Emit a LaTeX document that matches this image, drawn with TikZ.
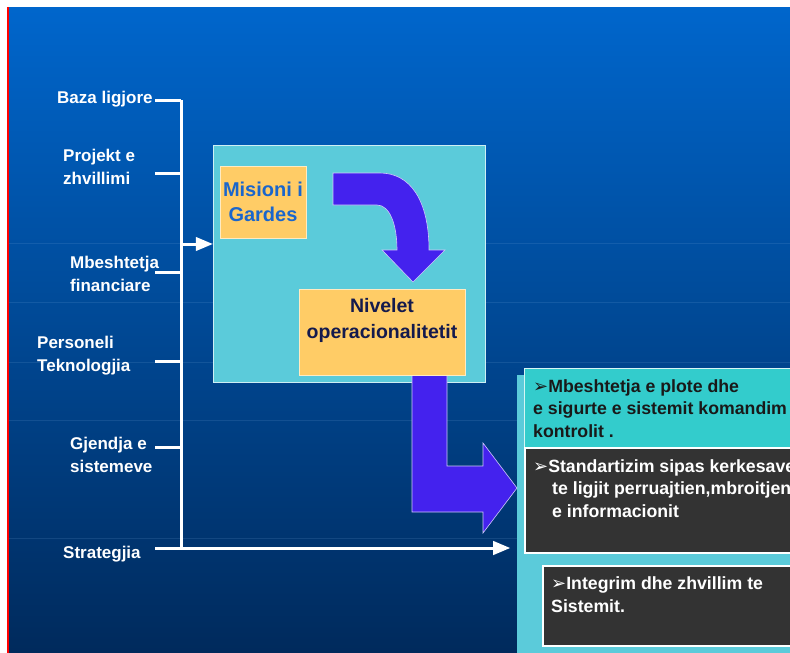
\documentclass[tikz,border=0pt]{standalone}
\usepackage{fontspec}
\setmainfont{Liberation Sans}
\newfontfamily\arrowfont{DejaVu Sans}
\usepackage{tikz}
\usetikzlibrary{arrows,positioning}

\definecolor{bgtop}{HTML}{0066CC}
\definecolor{bgmid}{HTML}{0052A6}
\definecolor{bgbot}{HTML}{002A5C}
\definecolor{cyanbox}{HTML}{5BCBDA}
\definecolor{tealbox}{HTML}{33CCCC}
\definecolor{orangebox}{HTML}{FFCC66}
\definecolor{arrowviolet}{HTML}{4422EE}
\definecolor{darkbox}{HTML}{333333}
\definecolor{misblue}{HTML}{1A66CC}
\definecolor{navytext}{HTML}{141A4D}

\newcommand{\arrbul}{{\arrowfont\fontsize{18}{18}\selectfont ➢}}

\begin{document}
\begin{tikzpicture}[x=1pt,y=-1pt,>=triangle 45,
    wline/.style={draw=white,line width=3pt},
    lbl/.style={anchor=base west,inner sep=0pt,align=left,text=white,
                font=\fontsize{17}{22.5}\selectfont\bfseries},
    paneltxt/.style={lbl,font=\fontsize{17.7}{22.5}\selectfont\bfseries},
    orbox/.style={draw=white!60!orangebox,line width=0.8pt,fill=orangebox,inner sep=0pt},
    bigarrow/.style={fill=arrowviolet,draw=white!75!arrowviolet,line width=0.6pt},
    darkpanel/.style={fill=darkbox,draw=white,line width=2pt}]
\useasboundingbox (0,0) rectangle (790,653);
\clip (0,0) rectangle (790,653);

% background
\fill[white] (0,0) rectangle (790,653);
\shade[top color=bgtop,middle color=bgmid,bottom color=bgbot] (9,7) rectangle (790,653);
\draw[red,line width=2pt] (8,7) -- (8,653);
\foreach \yy in {243,302,362,420,538}
  \draw[bgtop!50!white,opacity=0.15,line width=0.8pt] (9,\yy) -- (790,\yy);

% left labels (base = last line)
\node[lbl] (baza)      at (57,103)  {Baza ligjore};
\node[lbl] (projekt)   at (63,184)  {Projekt e\\zhvillimi};
\node[lbl] (mbeshtet)  at (70,291)  {Mbeshtetja\\financiare};
\node[lbl] (personel)  at (37,371)  {Personeli\\Teknologjia};
\node[lbl] (gjendja)   at (70,472)  {Gjendja e\\sistemeve};
\node[lbl] (strateg)   at (63,558)  {Strategjia};

\coordinate (spinetop) at (181,100);
\coordinate (spinebot) at (181,548);
\coordinate (t1) at (155,100);
\coordinate (t2) at (155,173);
\coordinate (t3) at (155,272);
\coordinate (t4) at (155,361);
\coordinate (t5) at (155,447);
\coordinate (t6) at (155,548);
\coordinate (in) at (181,244);

% main box
\node[fill=cyanbox,draw=white!70!cyanbox,line width=0.8pt,minimum width=272pt,
      minimum height=237pt] (sistemi) at (349,263.5) {};
\node[orbox,minimum width=86pt,minimum height=72pt,align=center,text=misblue,
      font=\fontsize{20}{25}\selectfont\bfseries] (misioni) at (263,202) {Misioni i\\Gardes};

% curved arrow
\path[bigarrow] (333,173) -- (380,173) .. controls (410,173) and (429,200) .. (429,250)
  -- (445,250) -- (413,282) -- (382,250) -- (397,250)
  .. controls (397,225) and (390,205) .. (377,205) -- (333,205) -- cycle;

% right panel
\node[fill=cyanbox,minimum width=290pt,minimum height=290pt,anchor=north west,
      inner sep=0pt] (panel) at (517,375) {};
\node[fill=tealbox,draw=white!80!tealbox,line width=1pt,minimum width=280pt,
      minimum height=84pt,anchor=north west,inner sep=0pt] (plotebox) at (524,368) {};
\node[darkpanel,minimum width=280pt,minimum height=105pt,anchor=north west,
      inner sep=0pt] (standbox) at (524,447) {};
\node[darkpanel,minimum width=260pt,minimum height=80pt,anchor=north west,
      inner sep=0pt] (integbox) at (542,565) {};

% L arrow
\path[bigarrow] (412,370) -- (447,370) -- (447,466) -- (483,466) -- (483,443)
  -- (517,488) -- (483,533) -- (483,512) -- (412,512) -- cycle;

\node[orbox,minimum width=166pt,minimum height=86pt] (nivelet) at (382,332) {};
\node[inner sep=0pt,align=center,text=navytext,anchor=north,
      font=\fontsize{19.5}{26}\selectfont\bfseries] (niveletxt)
      [below=10pt of nivelet.north] {Nivelet\\operacionalitetit};

% panel texts
\node[paneltxt,text=black!90] (plote) at (533,437)
  {\arrbul Mbeshtetja e plote dhe\\e sigurte e sistemit komandim\\kontrolit .};
\node[paneltxt] (standart) at (533,517)
  {\arrbul Standartizim sipas kerkesave\\\hspace*{19pt}te ligjit perruajtien,mbroitjen\\\hspace*{19pt}e informacionit};
\node[paneltxt] (integrim) at (551,612)
  {\arrbul Integrim dhe zhvillim te\\Sistemit.};

% connectors
\draw[wline] (spinetop) -- (spinebot);
\foreach \t in {t1,t2,t3,t4,t5}
  \draw[wline] (\t) -- (\t -| spinetop);
\draw[wline,->] (in) -- (in -| sistemi.west);
\draw[wline,->,shorten >=7pt] (t6) -- (t6 -| panel.west);

\end{tikzpicture}
\end{document}
